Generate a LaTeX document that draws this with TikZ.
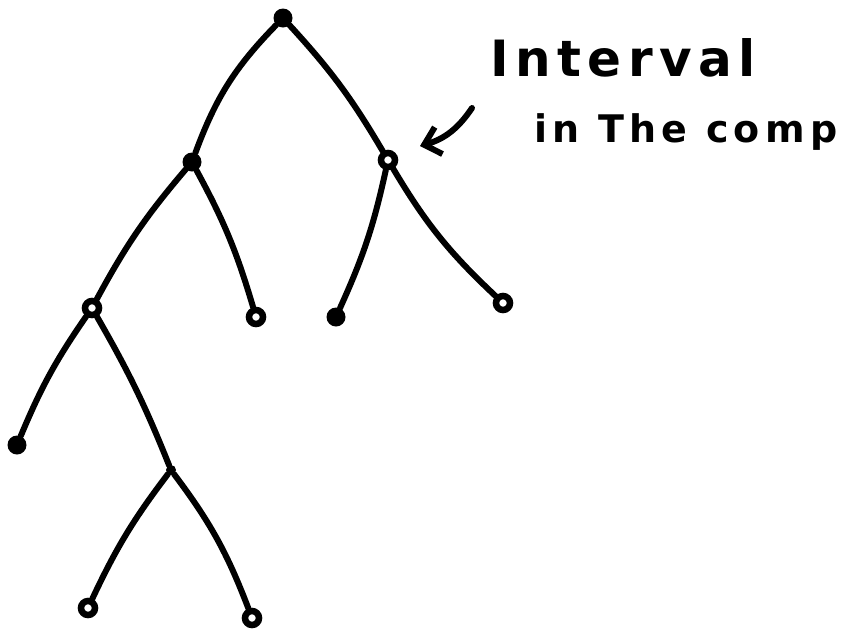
\documentclass[tikz,border=0pt]{standalone}
\usepackage{fontspec}
\setmainfont{DejaVu Sans}
\usetikzlibrary{arrows.meta}
\definecolor{ink}{HTML}{000000}
\tikzset{
  vert/.style={circle, fill=ink, inner sep=0pt, minimum size=19pt},
  ring/.style={circle, draw=ink, line width=6.5pt, inner sep=0pt, minimum size=14pt},
  tiny/.style={circle, fill=ink, inner sep=0pt, minimum size=10pt},
  edge/.style={draw=ink, line width=6pt, line cap=round, line join=round},
  pointer/.style={draw=ink, line width=6pt, line cap=round, line join=round,
    -{Straight Barb[length=15pt, width=28pt, line width=6pt]}},
  hand/.style={font=\bfseries\fontsize{50}{56}\selectfont\addfontfeature{LetterSpace=13}, text=ink, inner sep=0pt},
  handsmall/.style={font=\bfseries\fontsize{38}{44}\selectfont\addfontfeature{LetterSpace=14}, text=ink, inner sep=0pt}
}

\begin{document}
\begin{tikzpicture}[x=1pt,y=-1pt]
\useasboundingbox (0,0) rectangle (852,633);

% tree vertices
\node[vert] (root) at (283,18) {};
\node[vert] (l) at (192,162) {};
\node[ring] (r) at (388,160) {};
\node[ring] (ll) at (92,308) {};
\node[ring] (lr) at (256,317) {};
\node[vert] (rl) at (336,317) {};
\node[ring] (rr) at (503,303) {};
\node[vert] (lll) at (17,445) {};
\node[tiny] (llr) at (171,470) {};
\node[ring] (llrl) at (88,608) {};
\node[ring] (llrr) at (252,618) {};

% edges
\draw[edge] (root) to[bend right=12] (l);
\draw[edge] (root) to[bend left=6] (r);
\draw[edge] (l) to[bend right=6] (ll);
\draw[edge] (l) to[bend left=6] (lr);
\draw[edge] (r) to[bend left=6] (rl);
\draw[edge] (r) to[bend right=8] (rr);
\draw[edge] (ll) to[bend right=6] (lll);
\draw[edge] (ll) to[bend left=4] (llr);
\draw[edge] (llr) to[bend right=6] (llrl);
\draw[edge] (llr) to[bend left=8] (llrr);

% annotation
\node[hand, anchor=base west] (note) at (490,76) {Interval};
\node[handsmall, anchor=base west] (note2) at (534,142) {in The comp};
\coordinate (tail) at (472,108);
\coordinate (tip) at (420,146);
\draw[pointer] (tail) to[bend left=20] (tip);

\end{tikzpicture}
\end{document}
